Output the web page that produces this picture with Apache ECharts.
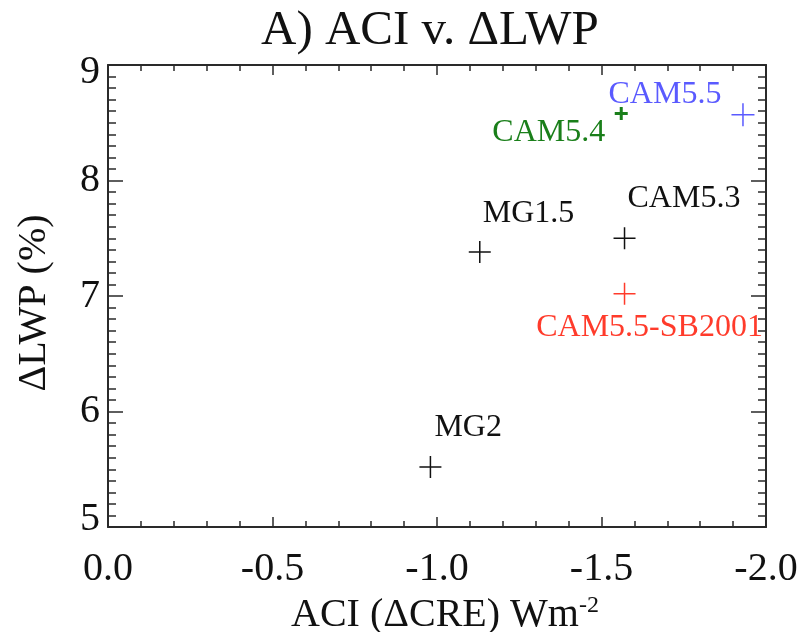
<!DOCTYPE html>
<html><head><meta charset="utf-8">
<script src="https://cdn.jsdelivr.net/npm/echarts@6/dist/echarts.min.js"></script>
<style>html,body{margin:0;padding:0;background:#fff}#c{width:802px;height:632px}</style>
</head><body><div id="c"></div>
<script>
const modelNames = ['MG2', 'MG1.5', 'CAM5.3', 'CAM5.5-SB2001', 'CAM5.4', 'CAM5.5'];
const aciValues = [-0.98, -1.13, -1.57, -1.57, -1.56, -1.93];
const dlwpValues = [5.52, 7.38, 7.50, 7.02, 8.58, 8.57];
const xTickLabels = ['0.0', '-0.5', '-1.0', '-1.5', '-2.0'];
const yTickLabels = ['5', '6', '7', '8', '9'];

const FONT = 'Liberation Serif';
const styleByName = {
  'MG2':           {color: '#111111', size: 22, width: 1.5, align: 'left',  offset: [4, -39]},
  'MG1.5':         {color: '#111111', size: 22, width: 1.5, align: 'left',  offset: [3, -39]},
  'CAM5.3':        {color: '#111111', size: 22, width: 1.5, align: 'left',  offset: [3, -40]},
  'CAM5.5-SB2001': {color: '#ff3b2b', size: 22, width: 1.5, align: 'center', offset: [25, 34]},
  'CAM5.4':        {color: '#1a7f1a', size: 13, width: 3,   align: 'right', offset: [-16, 19]},
  'CAM5.5':        {color: '#5a5aff', size: 23, width: 1.5, align: 'center', offset: [-78, -20]}
};

const plusPath = 'path://M0,10 L20,10 M10,0 L10,20';
const series = modelNames.map((name, i) => {
  const s = styleByName[name];
  return {
    type: 'scatter',
    name: name,
    xAxisIndex: 0, yAxisIndex: 0,
    symbol: plusPath,
    symbolSize: s.size,
    itemStyle: {color: s.color, borderColor: s.color, borderWidth: s.width, opacity: 1},
    label: {
      show: true, position: 'inside', formatter: name,
      color: s.color, fontFamily: FONT, fontSize: 32,
      align: s.align, verticalAlign: 'middle', offset: s.offset
    },
    emphasis: {disabled: true},
    data: [[aciValues[i], dlwpValues[i]]]
  };
});

const axisCol = '#2a2a2a';
function xAxisCfg(pos, labels) {
  return {
    type: 'value', position: pos, min: -2, max: 0, interval: 0.5, inverse: true,
    axisLine: {show: true, onZero: false, lineStyle: {color: axisCol, width: 2}},
    axisTick: {show: true, inside: true, length: 10, lineStyle: {color: axisCol, width: 1.5}},
    minorTick: {show: true, splitNumber: 5, length: 6, lineStyle: {color: axisCol, width: 1.5}},
    splitLine: {show: false},
    axisLabel: {show: labels, margin: 22, fontFamily: FONT, fontSize: 40, color: '#111',
      formatter: v => xTickLabels[Math.round(-v / 0.5)]}
  };
}
function yAxisCfg(pos, labels) {
  return {
    type: 'value', position: pos, min: 5, max: 9, interval: 1,
    axisLine: {show: true, onZero: false, lineStyle: {color: axisCol, width: 2}},
    axisTick: {show: true, inside: true, length: 15, lineStyle: {color: axisCol, width: 1.5}},
    minorTick: {show: true, splitNumber: 10, length: 8, lineStyle: {color: axisCol, width: 1.5}},
    splitLine: {show: false},
    axisLabel: {show: labels, margin: 8, fontFamily: FONT, fontSize: 40, color: '#111',
      formatter: v => {
        const i = Math.round(v - 5);
        if (i === 4) return '{hi|' + yTickLabels[i] + '}';
        if (i === 0) return '{lo|' + yTickLabels[i] + '}';
        return yTickLabels[i];
      },
      rich: {
        hi: {fontFamily: FONT, fontSize: 40, color: '#111', padding: [14, 0, 0, 0]},
        lo: {fontFamily: FONT, fontSize: 40, color: '#111', padding: [0, 0, 16, 0]}
      }}
  };
}

const xMain = xAxisCfg('bottom', true);
xMain.name = 'ACI (ΔCRE) Wm{sup|-2}';
xMain.nameLocation = 'middle';
xMain.nameGap = 54;
xMain.nameTextStyle = {fontFamily: FONT, fontSize: 40, color: '#111', padding: [0, 0, 0, 16],
  rich: {sup: {fontFamily: FONT, fontSize: 24, color: '#111', verticalAlign: 'top', padding: [0, 0, 20, 0]}}};
const yMain = yAxisCfg('left', true);
yMain.name = 'ΔLWP (%)';
yMain.nameLocation = 'middle';
yMain.nameRotate = 90;
yMain.nameGap = 54;
yMain.nameTextStyle = {fontFamily: FONT, fontSize: 40, color: '#111', padding: [0, 14, 0, 0]};

const chart = echarts.init(document.getElementById('c'), null, {renderer: 'canvas'});
chart.setOption({
  animation: false,
  backgroundColor: '#ffffff',
  title: {text: 'A) ACI v. ΔLWP', left: 256, top: 2,
    textStyle: {fontFamily: FONT, fontSize: 49, fontWeight: 'normal', color: '#111'}},
  grid: {left: 108, right: 36, top: 65, bottom: 105, containLabel: false, outerBoundsMode: 'none'},
  xAxis: [xMain, xAxisCfg('top', false)],
  yAxis: [yMain, yAxisCfg('right', false)],
  series: series
});
</script></body></html>
